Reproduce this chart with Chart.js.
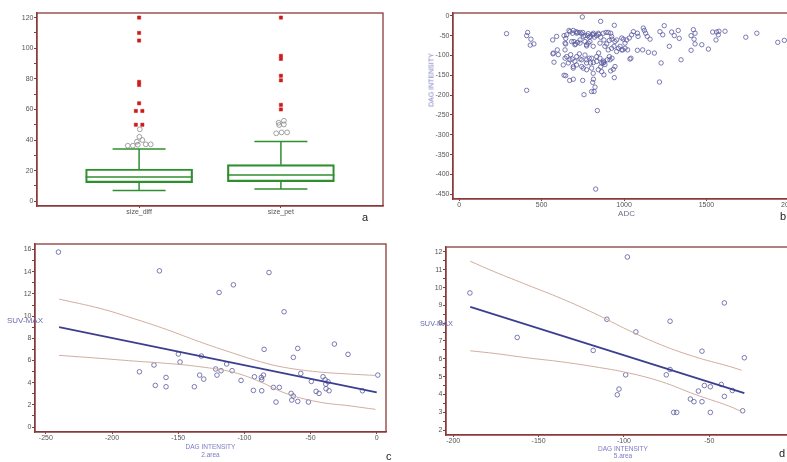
<!DOCTYPE html>
<html><head><meta charset="utf-8">
<script src="https://cdn.jsdelivr.net/npm/chart.js@4.4.1/dist/chart.umd.min.js"></script>
<style>
html,body{margin:0;padding:0;background:#fff;overflow:hidden;}
#wrap{position:relative;width:787px;height:462px;overflow:hidden;font-family:"Liberation Sans",Arial,sans-serif;background:#fff;}
canvas{position:absolute;}
.lbl{position:absolute;white-space:nowrap;line-height:1;}
</style></head><body><div id="wrap">
<canvas id="ca" width="400" height="225" style="left:0;top:0"></canvas>
<canvas id="cb" width="400" height="225" style="left:400px;top:0"></canvas>
<canvas id="cc" width="400" height="237" style="left:0;top:225px"></canvas>
<canvas id="cd" width="400" height="237" style="left:400px;top:225px"></canvas>
<div class="lbl" style="left:362px;top:212px;font-size:11px;color:#222">a</div>
<div class="lbl" style="left:780px;top:211px;font-size:11px;color:#222">b</div>
<div class="lbl" style="left:386px;top:451px;font-size:11px;color:#222">c</div>
<div class="lbl" style="left:779px;top:448px;font-size:11px;color:#222">d</div>
<div class="lbl" style="left:7px;top:317px;font-size:8px;color:#6a6ab0">SUV-MAX</div>
<div class="lbl" style="left:420px;top:320px;font-size:7.3px;color:#6a6ab0">SUV-MAX</div>
<div class="lbl" style="left:431px;top:80px;font-size:7px;color:#7b7bc0;transform:translate(-50%,-50%) rotate(-90deg);">DAG INTENSITY</div>
</div>
<script>
// ---------- Panel a : box plots ----------
const boxCategories = ['size_diff', 'size_pet'];
const boxQ1 = [12.2, 12.8];
const boxMedian = [15.9, 17.2];
const boxQ3 = [21.1, 23.9];
const whiskerLow = [7, 8];
const whiskerHigh = [34.1, 39.1];
const farOutDiff = [120, 110, 105, 78, 76, 64, 59, 59, 50, 50];
const farOutPet = [120, 95, 93, 82, 79, 63, 60];
const outDiff = [47, 42.1, 40, 38.9, 36.3, 36.3, 36.9, 37.2, 37.2];
const outPet = [51.3, 52.6, 49.8, 50.2, 44.4, 45, 45];

// ---------- Panel b : ADC vs DAG intensity ----------
const adcValues = [287,415,409,435,431,453,409,747,858,941,567,591,569,575,595,636,646,646,666,688,708,718,696,706,718,733,743,763,773,783,795,807,820,834,846,858,874,891,919,878,895,911,927,945,955,939,966,976,992,1006,1022,1016,1032,1046,1057,1081,1085,1117,1123,1131,1141,1158,1081,1113,1148,1184,1218,1235,1244,1275,1225,1215,1289,1305,1329,1335,1346,1407,1421,1431,1425,1431,1407,1472,1512,1538,1562,1572,1558,1576,1613,1739,1806,1933,1973,642,652,662,676,686,692,702,712,733,743,753,729,763,773,789,797,803,814,834,846,854,864,874,884,899,911,927,844,858,878,919,935,941,878,636,646,670,692,749,757,810,814,803,818,824,838,828,996,779,789,763,749,814,652,672,692,713,733,753,783,813,844,904,925,986,1006,642,682,702,733,773,793,813,854,884,904,925,955,986,571,601,642,672,713,743,773,804,834,874,915,945,631,692,773,813,864,1036,1042];
const dagValues = [-45,-42,-50,-59,-74,-71,-188,-3,-14,-24,-61,-52,-96,-117,-86,-50,-71,-57,-37,-44,-40,-42,-65,-71,-67,-61,-46,-65,-76,-69,-52,-47,-54,-50,-47,-54,-44,-42,-44,-61,-71,-62,-59,-65,-61,-77,-82,-77,-86,-82,-86,-61,-56,-48,-40,-44,-52,-31,-37,-44,-52,-59,-87,-86,-92,-94,-40,-48,-25,-77,-119,-167,-41,-50,-37,-57,-111,-50,-35,-44,-59,-71,-87,-73,-84,-41,-41,-48,-61,-39,-39,-54,-44,-67,-62,-86,-103,-119,-98,-109,-128,-115,-124,-109,-128,-132,-96,-99,-111,-107,-119,-132,-118,-103,-94,-107,-119,-114,-123,-111,-103,-107,-136,-129,-149,-139,-135,-156,-117,-150,-151,-163,-160,-163,-199,-168,-160,-191,-191,-180,-239,-437,-59,-50,-54,-50,-42,-44,-48,-40,-37,-44,-42,-52,-45,-48,-44,-42,-52,-56,-69,-69,-65,-73,-69,-73,-65,-77,-69,-77,-86,-82,-90,-86,-94,-98,-107,-111,-103,-111,-119,-107,-115,-119,-111,-128,-124,-132,-136,-145,-141,-109,-107];

// ---------- Panel c : DAG intensity (2.area) vs SUV-MAX ----------
const dagC = [-240.5,-164.2,-119.1,-108.3,-81.4,-70.0,-179.3,-168.3,-167.3,-159.2,-159.2,-149.9,-148.6,-137.8,-133.8,-132.5,-130.7,-121.7,-120.7,-117.6,-113.4,-109.3,-102.5,-93.2,-92.4,-87.2,-86.9,-86.9,-85.6,-85.1,-78.1,-73.6,-76.1,-64.7,-63.0,-64.2,-63.0,-59.7,-59.7,-57.4,-51.6,-49.4,-45.8,-43.6,-40.6,-39.0,-38.5,-38.3,-36.8,-36.0,-32.0,-21.7,-10.8,0.8];
const suvC = [15.77,14.08,12.13,12.82,13.93,10.39,4.98,5.59,3.75,4.47,3.63,6.58,5.86,3.63,4.68,6.40,4.32,5.23,4.68,5.08,5.68,5.08,4.20,3.30,4.53,4.47,4.26,3.27,4.68,7.00,3.57,3.57,2.25,3.03,2.79,2.43,6.28,7.09,2.31,4.83,2.25,4.11,3.21,3.03,4.53,4.26,3.87,3.45,4.08,3.27,7.48,6.55,3.27,4.68];
const fitCx = [-240, 0];
const fitCy = [9.0, 3.12];
const bandCx = [-240, -209, -184, -159, -134, -108, -88, -70, -45, -20, -1];
const bandCupper = [11.53, 10.69, 9.79, 8.80, 7.69, 6.64, 5.89, 5.38, 4.98, 4.77, 4.65];
const bandClower = [6.46, 6.19, 5.95, 5.74, 5.44, 4.92, 4.08, 3.09, 2.28, 1.9, 1.59];

// ---------- Panel d : DAG intensity (5.area) vs SUV-MAX ----------
const dagD = [-190.2,-162.5,-118.0,-110.0,-103.9,-102.9,-99.0,-98.0,-93.0,-75.2,-73.0,-73.0,-70.9,-69.1,-61.1,-59.0,-56.4,-54.3,-54.3,-52.9,-49.4,-49.4,-43.0,-41.2,-41.2,-36.5,-30.5,-29.5];
const suvD = [9.70,7.20,6.47,8.22,3.98,4.30,5.10,11.72,7.51,5.10,5.40,8.11,2.99,2.99,3.74,3.59,4.19,6.43,3.59,4.50,4.43,2.99,4.56,9.14,3.89,4.22,3.08,6.06];
const fitDx = [-190, -29.5];
const fitDy = [8.92, 4.07];
const bandDx = [-190, -175.6, -156.1, -136.5, -117.0, -97.5, -77.9, -58.4, -38.9, -31.1];
const bandDupper = [11.48, 10.88, 10.13, 9.38, 8.54, 7.61, 6.77, 6.11, 5.59, 5.36];
const bandDlower = [6.45, 6.30, 6.05, 5.83, 5.55, 5.21, 4.71, 4.00, 3.36, 3.03];

// ---------- styling ----------
const FONT = '"Liberation Sans", Arial, sans-serif';
const FRAME = '#8a3a3a';
const TICKC = '#555';
const PT = '#5a5aa0';
const GREEN = '#2f8f2f';
const RED = '#cc1a1a';

const framePlugin = {
  id: 'frame',
  afterDatasetsDraw(chart) {
    const a = chart.chartArea, c = chart.ctx;
    c.save(); c.strokeStyle = FRAME; c.lineWidth = 1.3;
    c.strokeRect(a.left, a.top, a.right - a.left, a.bottom - a.top);
    c.restore();
  }
};

function isMult(v, m) { const r = v / m; return Math.abs(r - Math.round(r)) < 1e-6; }
function stepTicks(min, max, step) {
  const out = [];
  for (let k = Math.ceil(min / step - 1e-9); k * step <= max + 1e-9; k++) out.push({ value: Math.round(k * step * 1000) / 1000 });
  return out;
}

function yAxis(min, max, step, labelEvery, width) {
  return {
    type: 'linear', position: 'left', min, max, offset: false,
    afterFit(s) { s.width = width; },
    afterBuildTicks(s) { s.ticks = stepTicks(min, max, step); },
    ticks: { autoSkip: false, color: TICKC, padding: 0.5,
      font: { size: 7, family: FONT },
      callback: (v) => isMult(v, labelEvery) ? String(Math.round(v * 100) / 100) : '' },
    grid: { drawOnChartArea: false, drawTicks: true, tickLength: 3, color: FRAME, tickColor: FRAME, offset: false },
    border: { display: true, color: FRAME, width: 1.3 }
  };
}
function xAxis(min, max, step, height, title, cb) {
  const ax = {
    type: 'linear', position: 'bottom', min, max, offset: false,
    afterFit(s) { s.height = height; },
    afterBuildTicks(s) { s.ticks = stepTicks(min, max, step); },
    ticks: { autoSkip: false, maxRotation: 0, minRotation: 0, color: TICKC, padding: 0,
      font: { size: 7, family: FONT }, callback: cb || ((v) => String(v)) },
    grid: { drawOnChartArea: false, drawTicks: true, tickLength: 2, color: FRAME, tickColor: FRAME, offset: false },
    border: { display: true, color: FRAME, width: 1.3 }
  };
  if (title) ax.title = title;
  return ax;
}
function baseOpts(padding, scales) {
  return {
    responsive: false, animation: false, devicePixelRatio: 1,
    layout: { padding, autoPadding: false },
    plugins: { legend: { display: false }, tooltip: { enabled: false } },
    scales
  };
}
const pts = (xs, ys) => xs.map((x, i) => ({ x, y: ys[i] }));

// ---------- chart a ----------
(function () {
  const ds = [];
  ds.push({ type: 'bar', data: boxQ1.map((q, i) => ({ x: i + 1, y: [q, boxQ3[i]] })),
    backgroundColor: 'rgba(0,0,0,0)', borderColor: GREEN, borderWidth: 1.5, borderSkipped: false,
    barThickness: 107, grouped: false });
  for (let i = 0; i < 2; i++) {
    ds.push({ type: 'line', data: [{ x: i + 1, y: boxQ3[i] }, { x: i + 1, y: whiskerHigh[i] }],
      borderColor: GREEN, borderWidth: 1.5, pointRadius: 0 });
    ds.push({ type: 'line', data: [{ x: i + 1, y: whiskerLow[i] }, { x: i + 1, y: boxQ1[i] }],
      borderColor: GREEN, borderWidth: 1.5, pointRadius: 0 });
  }
  ds.push({ type: 'scatter', data: boxMedian.map((m, i) => ({ x: i + 1, y: m })),
    pointStyle: 'line', pointRadius: 53.5, borderColor: GREEN, pointBorderWidth: 1.5 });
  ds.push({ type: 'scatter', data: whiskerLow.map((m, i) => ({ x: i + 1, y: m })).concat(whiskerHigh.map((m, i) => ({ x: i + 1, y: m }))),
    pointStyle: 'line', pointRadius: 26.5, borderColor: GREEN, pointBorderWidth: 1.5 });
  const jFarDiff = [0, 0, 0, 0, 0, 0, -0.023, 0.023, -0.023, 0.023];
  const jOutDiff = [0.005, 0.002, 0.023, -0.016, -0.080, -0.044, -0.009, 0.047, 0.082];
  const jOutPet = [-0.016, 0.021, -0.012, 0.021, -0.033, 0.005, 0.044];
  ds.push({ type: 'scatter', data: farOutDiff.map((v, i) => ({ x: 1 + jFarDiff[i], y: v })).concat(farOutPet.map(v => ({ x: 2, y: v }))),
    pointStyle: 'rect', pointRadius: 2.3, backgroundColor: RED, borderColor: RED, pointBorderWidth: 0.5 });
  ds.push({ type: 'scatter', data: outDiff.map((v, i) => ({ x: 1 + jOutDiff[i], y: v })).concat(outPet.map((v, i) => ({ x: 2 + jOutPet[i], y: v }))),
    pointStyle: 'circle', pointRadius: 2.4, backgroundColor: 'rgba(0,0,0,0)', borderColor: '#8a8a8a', pointBorderWidth: 0.8 });
  new Chart(document.getElementById('ca'), {
    type: 'scatter', data: { datasets: ds },
    options: baseOpts({ left: 0, top: 13, right: 17, bottom: 0 }, {
      x: xAxis(0.28, 2.72, 1, 19, null, (v) => isMult(v, 1) ? (boxCategories[Math.round(v) - 1] || '') : ''),
      y: yAxis(-3.1, 123, 10, 20, 37)
    }),
    plugins: [framePlugin]
  });
})();

// ---------- chart b ----------
new Chart(document.getElementById('cb'), {
  type: 'scatter',
  data: { datasets: [{ data: pts(adcValues, dagValues), pointStyle: 'circle', pointRadius: 2.2,
    backgroundColor: 'rgba(0,0,0,0)', borderColor: PT, pointBorderWidth: 0.8 }] },
  options: baseOpts({ left: 0, top: 13, right: 0, bottom: 0 }, {
    x: xAxis(-38, 2068, 500, 26, { display: true, text: 'ADC', color: '#6d6d8a', font: { size: 8, family: FONT }, padding: { top: 0, bottom: 6.5 } }),
    y: yAxis(-462, 7, 50, 50, 53)
  }),
  plugins: [framePlugin]
});

// ---------- charts c, d ----------
function regChart(id, pad, xr, yr, xh, yw, title, dx, dy, fx, fy, bx, bu, bl, ystep, ylab) {
  new Chart(document.getElementById(id), {
    type: 'scatter',
    data: { datasets: [
      { type: 'line', data: pts(bx, bu), borderColor: '#c9a594', borderWidth: 0.9, pointRadius: 0, tension: 0.4 },
      { type: 'line', data: pts(bx, bl), borderColor: '#c9a594', borderWidth: 0.9, pointRadius: 0, tension: 0.4 },
      { type: 'line', data: pts(fx, fy), borderColor: '#3c3f8f', borderWidth: 1.8, pointRadius: 0 },
      { data: pts(dx, dy), pointStyle: 'circle', pointRadius: 2.3, backgroundColor: 'rgba(0,0,0,0)', borderColor: PT, pointBorderWidth: 0.8 }
    ] },
    options: baseOpts(pad, {
      x: xAxis(xr[0], xr[1], 50, xh, title),
      y: yAxis(yr[0], yr[1], ystep, ylab, yw)
    }),
    plugins: [framePlugin]
  });
}
regChart('cc', { left: 0, top: 19, right: 14, bottom: 0 }, [-258.2, 7], [-0.45, 16.5], 30, 35,
  { display: true, text: ['DAG INTENSITY', '2.area'], color: '#7b7bc0', font: { size: 6.5, family: FONT }, padding: { top: 0, bottom: 3 } },
  dagC, suvC, fitCx, fitCy, bandCx, bandCupper, bandClower, 1, 2);
regChart('cd', { left: 0, top: 22, right: 0, bottom: 0 }, [-204.2, 3.1], [1.72, 12.28], 27, 46,
  { display: true, text: ['DAG INTENSITY', '5.area'], color: '#7b7bc0', font: { size: 6.5, family: FONT }, padding: { top: 0, bottom: 1.4 } },
  dagD, suvD, fitDx, fitDy, bandDx, bandDupper, bandDlower, 0.5, 1);
</script>
</body></html>
